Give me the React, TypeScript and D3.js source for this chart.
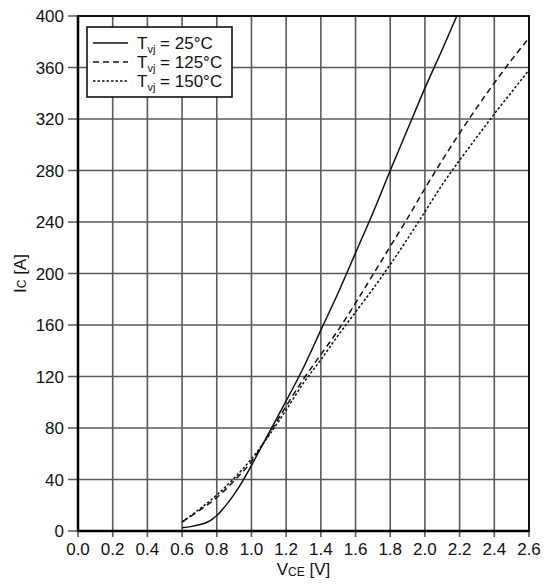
import React from "react";
import * as d3 from "d3";

const xTicks = [0, 0.2, 0.4, 0.6, 0.8, 1.0, 1.2, 1.4, 1.6, 1.8, 2.0, 2.2, 2.4, 2.6];
const yTicks = [0, 40, 80, 120, 160, 200, 240, 280, 320, 360, 400];

const vce25 = [0.6, 0.65, 0.7, 0.75, 0.775, 0.8, 0.85, 0.9, 0.95, 1.0, 1.1, 1.2, 1.3, 1.4, 1.5, 1.6, 1.7, 1.8, 1.9, 2.0, 2.1, 2.2];
const ic25 = [2.5, 3.4, 4.8, 7.2, 9.3, 12, 19.5, 28.5, 39, 51, 76, 101, 127, 156, 185, 216, 247, 280, 312, 344, 374, 405];

const vceHot = [0.6, 0.7, 0.8, 0.9, 1.0, 1.1, 1.2, 1.3, 1.4, 1.5, 1.6, 1.7, 1.8, 1.9, 2.0, 2.1, 2.2, 2.3, 2.4, 2.5, 2.6];
const ic125 = [7, 16, 26, 39, 54, 75, 97, 118, 137, 156, 177, 199, 221, 243, 266, 288, 309, 329, 348, 366, 383];
const ic150 = [7, 17, 28, 41, 56, 74, 94, 115, 133, 152, 170, 188, 207, 227, 248, 269, 288, 306, 324, 341, 358];

const seriesNames = ["25°C", "125°C", "150°C"];
const dashes = ["", "6,4", "2.5,2"];

const W = 550;
const H = 586;
const L = 78, R = 529, T = 16, B = 531;
const FONT = "'Liberation Sans', Arial, Helvetica, sans-serif";

export default function App() {
  const x = d3.scaleLinear().domain([0, 2.6]).range([L, R]);
  const y = d3.scaleLinear().domain([0, 400]).range([B, T]);
  const line = d3
    .line<[number, number]>()
    .x((d) => x(d[0]))
    .y((d) => y(d[1]))
    .curve(d3.curveMonotoneX);

  const series: [number, number][][] = [
    vce25.map((v, i) => [v, ic25[i]] as [number, number]),
    vceHot.map((v, i) => [v, ic125[i]] as [number, number]),
    vceHot.map((v, i) => [v, ic150[i]] as [number, number]),
  ];

  const legendX = 87, legendY = 27;
  const fmt = d3.format(".1f");

  return (
    <svg
      width={W}
      height={H}
      style={{ position: "absolute", left: 0, top: 0, background: "#fff" }}
      fontFamily={FONT}
    >
      <rect x={0} y={0} width={W} height={H} fill="#fff" />
      <defs>
        <clipPath id="plot">
          <rect x={L} y={T} width={R - L} height={B - T} />
        </clipPath>
      </defs>
      {/* grid */}
      {xTicks.map((t) => (
        <line key={"gx" + t} x1={x(t)} x2={x(t)} y1={T} y2={B + 6} stroke="#5a5a5a" strokeWidth={1.6} />
      ))}
      {yTicks.map((t) => (
        <line key={"gy" + t} x1={L - 10} x2={R} y1={y(t)} y2={y(t)} stroke="#5a5a5a" strokeWidth={1.6} />
      ))}
      {/* frame */}
      <rect x={L} y={T} width={R - L} height={B - T} fill="none" stroke="#111" strokeWidth={2} />
      <line x1={L} x2={R} y1={B} y2={B} stroke="#000" strokeWidth={2.5} />
      <line x1={L} x2={L} y1={T} y2={B} stroke="#000" strokeWidth={2.5} />
      {/* curves */}
      <g clipPath="url(#plot)">
        {series.map((s, i) => (
          <path
            key={"s" + i}
            d={line(s) || ""}
            fill="none"
            stroke="#111"
            strokeWidth={1.5}
            strokeDasharray={dashes[i]}
          />
        ))}
      </g>
      {/* tick labels */}
      {xTicks.map((t) => (
        <text key={"tx" + t} x={x(t)} y={555} textAnchor="middle" fontSize={17} fill="#111">
          {fmt(t)}
        </text>
      ))}
      {yTicks.map((t) => (
        <text key={"ty" + t} x={64} y={y(t) + 6} textAnchor="end" fontSize={17} fill="#111">
          {t}
        </text>
      ))}
      {/* axis titles */}
      <text x={(L + R) / 2} y={575} textAnchor="middle" fontSize={17} fill="#111">
        V<tspan fontSize={12} dy={1}>CE</tspan>
        <tspan dy={-1}> [V]</tspan>
      </text>
      <text
        transform={`translate(26, ${(T + B) / 2}) rotate(-90)`}
        textAnchor="middle"
        fontSize={17}
        fill="#111"
      >
        I<tspan fontSize={12}>C</tspan> [A]
      </text>
      {/* legend */}
      <rect x={legendX} y={legendY} width={145} height={70} fill="#fff" stroke="#111" strokeWidth={1.6} />
      {seriesNames.map((n, i) => {
        const ly = 43 + i * 19;
        return (
          <g key={"lg" + i}>
            <line x1={93} x2={128} y1={ly} y2={ly} stroke="#111" strokeWidth={1.4} strokeDasharray={dashes[i]} />
            <text x={137} y={ly + 6} fontSize={17} fill="#111">
              T<tspan fontSize={11} dy={4}>vj</tspan>
              <tspan dy={-4}> = {n}</tspan>
            </text>
          </g>
        );
      })}
    </svg>
  );
}
